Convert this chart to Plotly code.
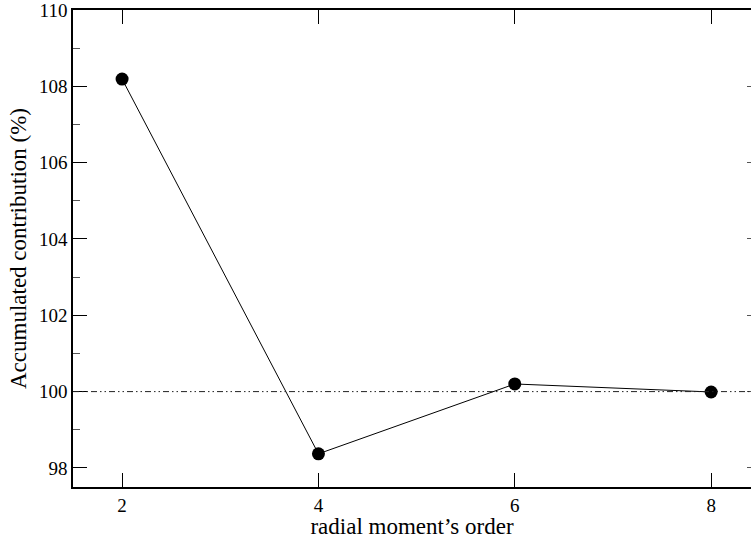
import plotly.graph_objects as go

# radial moment order vs accumulated contribution (%)
orders = [2, 4, 6, 8]
contribution = [108.19, 98.37, 100.2, 99.99]
reference_level = 100.0

x_ticks = [2, 4, 6, 8]
y_ticks = [98, 100, 102, 104, 106, 108, 110]

FONT = "Times New Roman, Liberation Serif, DejaVu Serif, serif"

fig = go.Figure()

fig.add_trace(go.Scatter(
    x=orders, y=contribution,
    mode="lines+markers",
    line=dict(color="black", width=1),
    marker=dict(color="black", size=13),
    showlegend=False,
))

# invisible trace so the right-hand axis carries its tick marks
fig.add_trace(go.Scatter(
    x=orders, y=contribution, yaxis="y2",
    mode="markers", marker=dict(opacity=0),
    showlegend=False, hoverinfo="skip",
))

fig.add_hline(
    y=reference_level,
    line=dict(color="#222222", width=1, dash="6px,3px,1.5px,3px,1.5px,3px"),
)

fig.update_layout(
    width=751, height=539,
    margin=dict(l=73, r=0, t=6, b=52),
    paper_bgcolor="white", plot_bgcolor="white",
    font=dict(family=FONT, size=19, color="black"),
    xaxis=dict(
        range=[1.5, 8.406],
        tickvals=x_ticks,
        tickfont=dict(family=FONT, size=19),
        ticks="inside", ticklen=14, tickwidth=1.2, tickcolor="black",
        showline=True, linecolor="black", linewidth=1.6,
        mirror="ticks",
        showgrid=False, zeroline=False,
        title=dict(text="radial moment’s order", font=dict(family=FONT, size=23), standoff=0),
    ),
    yaxis=dict(
        range=[97.5, 110],
        tickvals=y_ticks,
        tickfont=dict(family=FONT, size=19),
        ticklabeloverflow="allow",
        ticks="inside", ticklen=14, tickwidth=1.2, tickcolor="black",
        minor=dict(dtick=1, tick0=97, ticks="inside", ticklen=7,
                   tickcolor="#555555", tickwidth=1.2, showgrid=False),
        showline=True, linecolor="black", linewidth=1.6,
        mirror=False,
        showgrid=False, zeroline=False,
        title=dict(text="Accumulated contribution (%)", font=dict(family=FONT, size=23), standoff=6),
    ),
    yaxis2=dict(
        overlaying="y", side="right",
        range=[97.5, 110],
        tickvals=y_ticks, showticklabels=False,
        ticks="inside", ticklen=4, tickwidth=1.2, tickcolor="#555555",
        showline=False, showgrid=False, zeroline=False,
    ),
)

fig.write_html("out.html")
